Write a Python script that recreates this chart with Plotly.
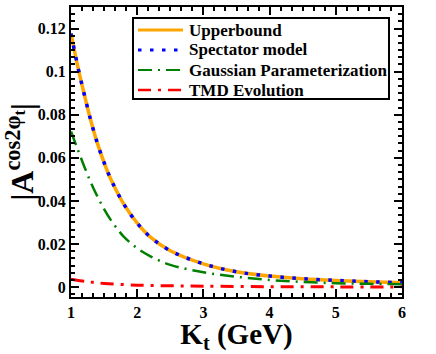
import plotly.graph_objects as go

# ── Data ─────────────────────────────────────────────────────────────────────

kt_upper = [1.0, 1.1, 1.2, 1.3, 1.4, 1.5, 1.6, 1.8, 2.0, 2.2, 2.5, 3.0,
            3.5, 4.0, 4.5, 5.0, 5.5, 6.0]
upperbound = [0.1177, 0.1027, 0.0895, 0.0772, 0.0666, 0.0578, 0.0502,
              0.0384, 0.0297, 0.0232, 0.0169, 0.0108, 0.0071, 0.0051,
              0.0039, 0.0031, 0.0025, 0.0020]
spectator = upperbound[:]  # sits on top of the upper bound

kt_gauss = [1.0, 1.1, 1.2, 1.3, 1.4, 1.5, 1.6, 1.7, 1.8, 2.0, 2.2, 2.5,
            3.0, 3.5, 4.0, 4.5, 5.0, 5.5, 6.0]
gaussian = [0.0722, 0.0640, 0.0560, 0.0485, 0.0420, 0.0362, 0.0312,
            0.0270, 0.0233, 0.0180, 0.0143, 0.0103, 0.0069, 0.0048,
            0.0033, 0.0024, 0.0018, 0.0015, 0.0013]

kt_tmd = [1.0, 1.25, 1.5, 2.0, 2.5, 3.0, 4.0, 5.0, 6.0]
tmd = [0.0037, 0.0025, 0.0017, 0.0009, 0.0006, 0.0004, 0.0002, 0.0001, 0.0001]

series_names = ["Upperbound", "Spectator model",
                "Gaussian Parameterization", "TMD Evolution"]

FONT = "Liberation Serif, Times New Roman, serif"

# ── Styles ────────────────────────────────────────────────────────────────────

STYLES = [
    dict(color="#FFA500", width=3.5, dash="solid"),
    dict(color="#0000FF", width=3.5, dash="3.5px,8.5px"),
    dict(color="#008000", width=2.5, dash="14px,6px,2px,6px"),
    dict(color="#FF0000", width=3, dash="13px,7px,3px,7px"),
]

W, H = 436, 354
ML, MR, MT, MB = 71, 34, 7, 57
PW, PH = W - ML - MR, H - MT - MB


def px_to_paper(x, y):
    """Page pixel -> paper coordinates (used for the hand-drawn legend)."""
    return (x - ML) / PW, 1 - (y - MT) / PH


fig = go.Figure()

for xs, ys, name, style in zip([kt_upper, kt_upper, kt_gauss, kt_tmd],
                               [upperbound, spectator, gaussian, tmd],
                               series_names, STYLES):
    fig.add_trace(go.Scatter(x=xs, y=ys, mode="lines", name=name,
                             line=dict(shape="spline", **style),
                             showlegend=False, hoverinfo="skip"))

# ── Legend box (drawn by hand to get the tight row spacing) ──────────────────

x0, y0 = px_to_paper(133, 18)
x1, y1 = px_to_paper(389, 99)
fig.add_shape(type="rect", xref="paper", yref="paper", x0=x0, y0=y1, x1=x1, y1=y0,
              line=dict(color="black", width=2), fillcolor="white", layer="above")

for i, (name, style) in enumerate(zip(series_names, STYLES)):
    row_y = 30 + i * 20
    lx0, ly = px_to_paper(138, row_y)
    lx1, _ = px_to_paper(183, row_y)
    tx, _ = px_to_paper(187, row_y)
    fig.add_shape(type="line", xref="paper", yref="paper",
                  x0=lx0, x1=lx1, y0=ly, y1=ly, layer="above",
                  line=dict(color=style["color"], width=style["width"] - 0.5,
                            dash=style["dash"]))
    fig.add_annotation(xref="paper", yref="paper", x=tx, y=ly, text=name,
                       xanchor="left", yanchor="middle", showarrow=False,
                       font=dict(family=FONT, size=17, color="black", weight="bold"))

axis_common = dict(
    showline=True, linecolor="black", linewidth=2, mirror="allticks",
    ticks="inside", ticklen=8, tickwidth=1.5, tickcolor="black",
    showgrid=False, zeroline=False,
    tickfont=dict(family=FONT, size=16, color="black", weight="bold"),
)

fig.update_xaxes(
    range=[1, 6], dtick=1, tick0=1,
    minor=dict(dtick=1 / 6, tick0=1, ticks="inside", ticklen=4,
               tickwidth=1.5, tickcolor="black"),
    title=dict(text="K<sub>t</sub> (GeV)", standoff=4,
               font=dict(family=FONT, size=29, color="black", weight="bold")),
    **axis_common,
)
fig.update_yaxes(
    range=[-0.0046, 0.13], dtick=0.02, tick0=0,
    minor=dict(dtick=0.02 / 6, tick0=0, ticks="inside", ticklen=4,
               tickwidth=1.5, tickcolor="black"),
    title=dict(text="|A<sup>cos2φ<sub>t</sub></sup>|", standoff=4,
               font=dict(family=FONT, size=32, color="black", weight="bold")),
    **axis_common,
)

fig.update_layout(
    width=W, height=H,
    margin=dict(l=ML, r=MR, t=MT, b=MB, autoexpand=False),
    plot_bgcolor="white", paper_bgcolor="white",
    showlegend=False,
)

fig.write_html("out.html", config={"displayModeBar": False},
               post_script="document.body.style.margin='0';")
